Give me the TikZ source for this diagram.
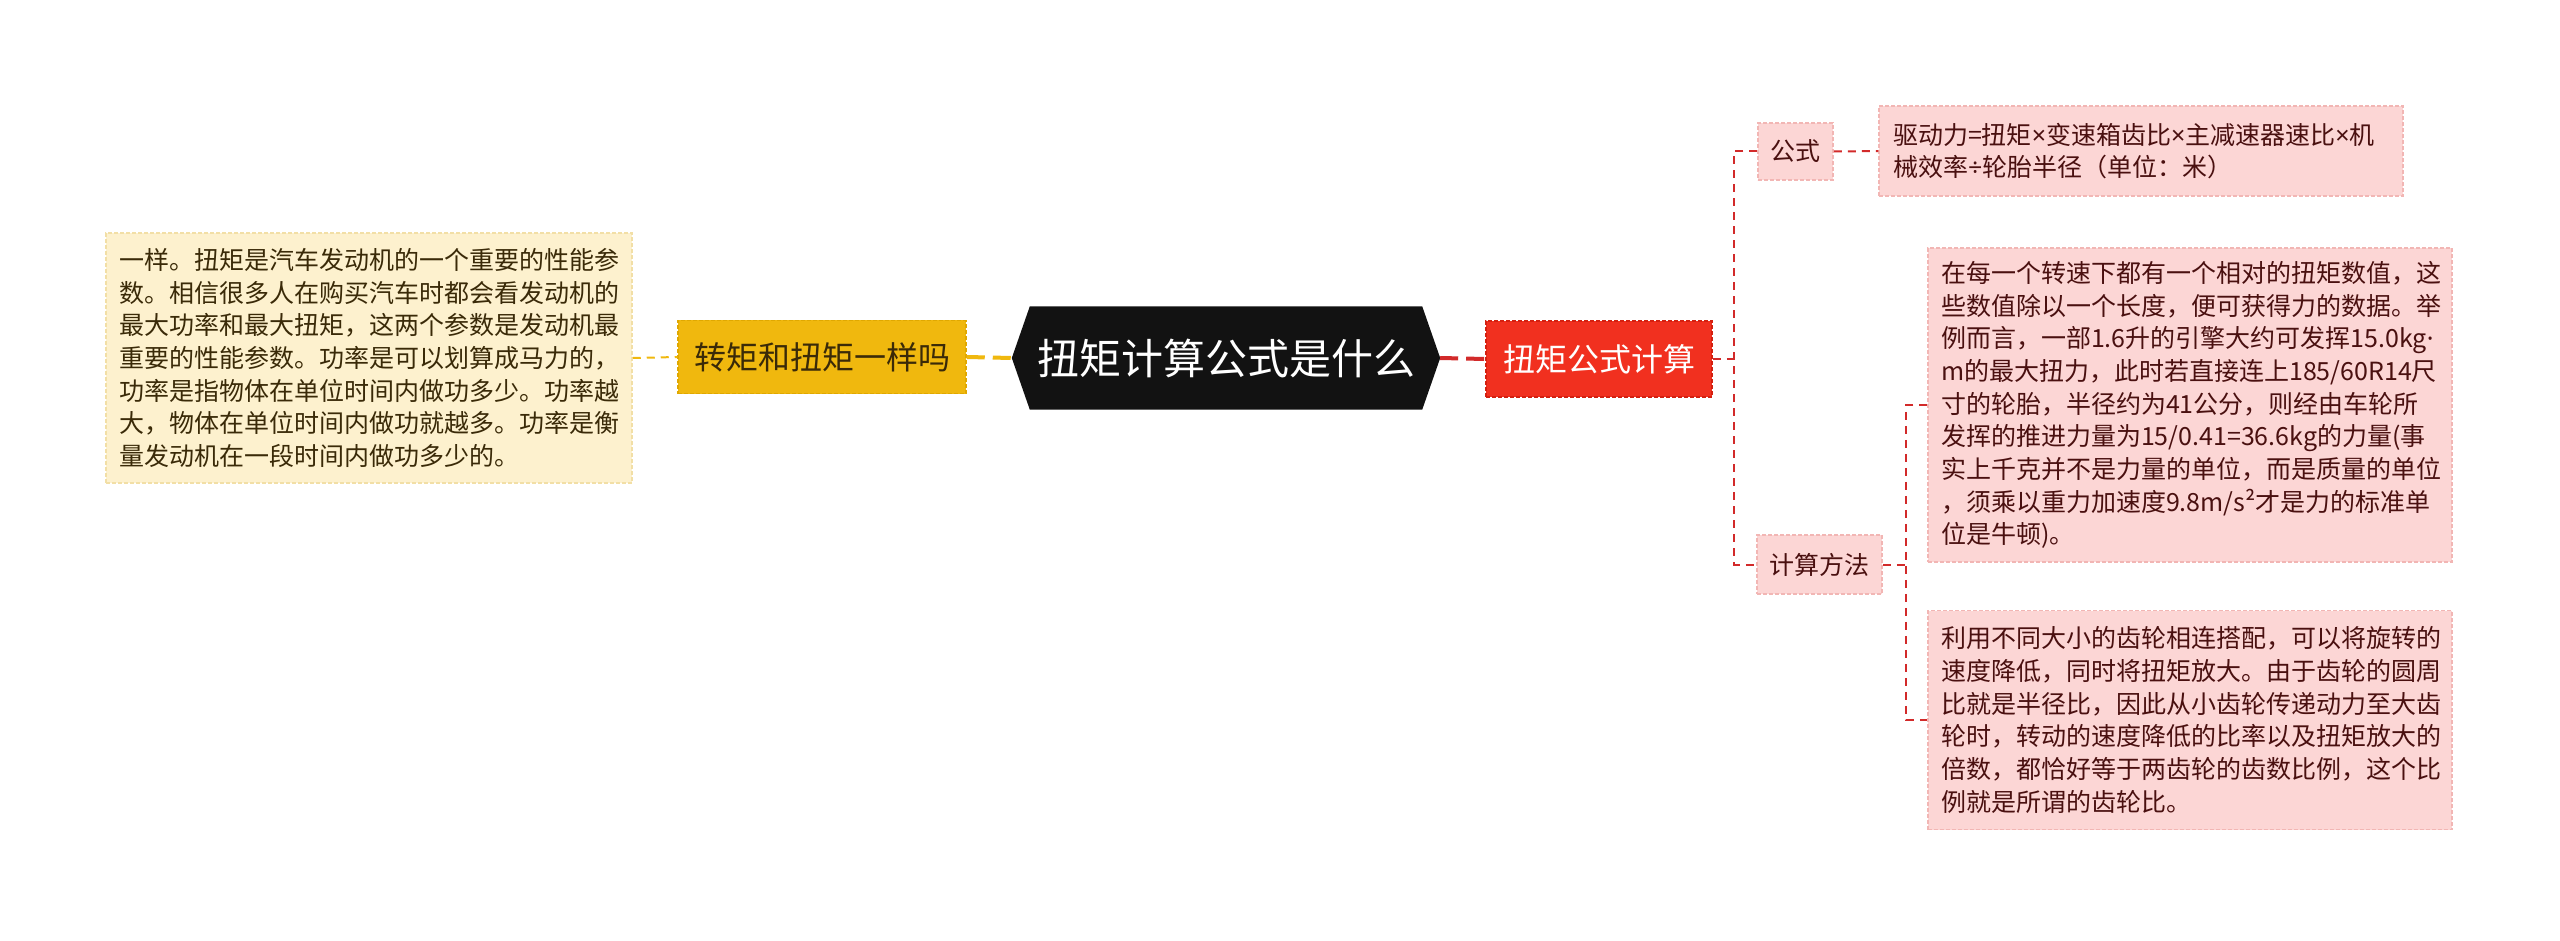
\documentclass[tikz,border=0pt]{standalone}
\usepackage{fontspec}
\setmainfont{Noto Sans CJK SC}
\newfontfamily\latinf{Noto Sans}
\usetikzlibrary{calc}
\definecolor{cblack}{HTML}{121212}
\definecolor{cyel}{HTML}{F0B80E}
\definecolor{cyelb}{HTML}{E0A800}
\definecolor{ccream}{HTML}{FDF1CE}
\definecolor{ccreamb}{HTML}{F2DFA6}
\definecolor{cred}{HTML}{F1301F}
\definecolor{credb}{HTML}{D42010}
\definecolor{cpink}{HTML}{FCD6D5}
\definecolor{cpinkb}{HTML}{F2B6B4}
\definecolor{cline}{HTML}{D22A2A}
\definecolor{ctxtb}{HTML}{3A2A08}
\definecolor{ctxtr}{HTML}{4A1010}
\newcommand{\mytimes}{{\latinf ×}}
\tikzset{
  boxbase/.style={rectangle, inner sep=0pt, align=left, line width=1.5pt, dash pattern=on 4pt off 2pt},
  leafyel/.style={boxbase, fill=ccream, draw=ccreamb, text=ctxtb, font=\fontsize{25}{32.7}\selectfont},
  leafpink/.style={boxbase, fill=cpink, draw=cpinkb, text=ctxtr, font=\fontsize{25}{32.7}\selectfont},
  subpink/.style={boxbase, align=center, fill=cpink, draw=cpinkb, text=ctxtr, font=\fontsize{25}{30}\selectfont},
  mainyel/.style={boxbase, align=center, fill=cyel, draw=cyelb, text=ctxtb, font=\fontsize{32}{36}\selectfont},
  mainred/.style={boxbase, align=center, fill=cred, draw=credb, text=white, font=\fontsize{32}{36}\selectfont},
  conn/.style={draw=cline, line width=2pt, dash pattern=on 8pt off 6pt},
  connyel/.style={draw=cyel, line width=2pt, dash pattern=on 8pt off 6pt},
  connthickyel/.style={draw=cyel, line width=4pt, dash pattern=on 18pt off 8pt},
  connthickred/.style={draw=cline, line width=4pt, dash pattern=on 18pt off 8pt},
}
\begin{document}
\begin{tikzpicture}[x=1pt,y=-1pt]
\useasboundingbox (0,0) rectangle (2560,941);
% center node
\node[rectangle, minimum width=428pt, minimum height=103pt, inner sep=0pt] (c) at (1226,358) {};
\fill[cblack] ($(c.north west)+(18,0)$) -- ($(c.north east)+(-18,0)$) -- (c.east) -- ($(c.south east)+(-18,0)$) -- ($(c.south west)+(18,0)$) -- (c.west) -- cycle;
\node[text=white, font=\fontsize{42}{46}\selectfont] (ct) at (c.center) {扭矩计算公式是什么};
% left branch
\node[mainyel, minimum width=288pt, minimum height=73pt] (y1) at (822,357) {转矩和扭矩一样吗};
\node[leafyel, minimum width=526pt, minimum height=250pt, text width=500pt] (lb) at (369,358) {一样。扭矩是汽车发动机的一个重要的性能参\\数。相信很多人在购买汽车时都会看发动机的\\最大功率和最大扭矩，这两个参数是发动机最\\重要的性能参数。功率是可以划算成马力的，\\功率是指物体在单位时间内做功多少。功率越\\大，物体在单位时间内做功就越多。功率是衡\\量发动机在一段时间内做功多少的。};
% right branch
\node[mainred, minimum width=226pt, minimum height=76pt] (r1) at (1599,359) {扭矩公式计算};
\node[subpink, minimum width=75pt, minimum height=57pt] (f1) at (1795.5,151.5) {公式};
\node[subpink, minimum width=125pt, minimum height=59pt] (m1) at (1819.5,564.5) {计算方法};
\node[leafpink, minimum width=524pt, minimum height=90pt, text width=496pt] (fb) at (2141,151) {驱动力=扭矩\mytimes 变速箱齿比\mytimes 主减速器速比\mytimes 机\\械效率{\latinf ÷}轮胎半径（单位：米）};
\node[leafpink, minimum width=524pt, minimum height=314pt, text width=498pt] (b1) at (2190,405) {在每一个转速下都有一个相对的扭矩数值，这\\些数值除以一个长度，便可获得力的数据。举\\例而言，一部1.6升的引擎大约可发挥15.0kg{\latinf ·}\\m的最大扭力，此时若直接连上185/60R14尺\\寸的轮胎，半径约为41公分，则经由车轮所\\发挥的推进力量为15/0.41=36.6kg的力量(事\\实上千克并不是力量的单位，而是质量的单位\\，须乘以重力加速度9.8m/s²才是力的标准单\\位是牛顿)。};
\node[leafpink, minimum width=524pt, minimum height=219pt, text width=498pt] (b2) at (2190,720) {利用不同大小的齿轮相连搭配，可以将旋转的\\速度降低，同时将扭矩放大。由于齿轮的圆周\\比就是半径比，因此从小齿轮传递动力至大齿\\轮时，转动的速度降低的比率以及扭矩放大的\\倍数，都恰好等于两齿轮的齿数比例，这个比\\例就是所谓的齿轮比。};
% junctions
\coordinate (j1) at (1734,0);
\coordinate (j2) at (1906,0);
% connectors
\draw[connyel] (lb.east) -- (y1.west);
\draw[connthickyel] (y1.east) -- (c.west);
\draw[connthickred] (c.east) -- (r1.west);
\draw[conn] (r1.east) -- (r1.east -| j1);
\draw[conn] (f1.west) -- (f1.west -| j1) -- (m1.west -| j1) -- (m1.west);
\draw[conn] (f1.east) -- (fb.west);
\draw[conn] (m1.east) -- (m1.east -| j2);
\draw[conn] (b1.west) -- (b1.west -| j2) -- (b2.west -| j2) -- (b2.west);
\end{tikzpicture}
\end{document}
